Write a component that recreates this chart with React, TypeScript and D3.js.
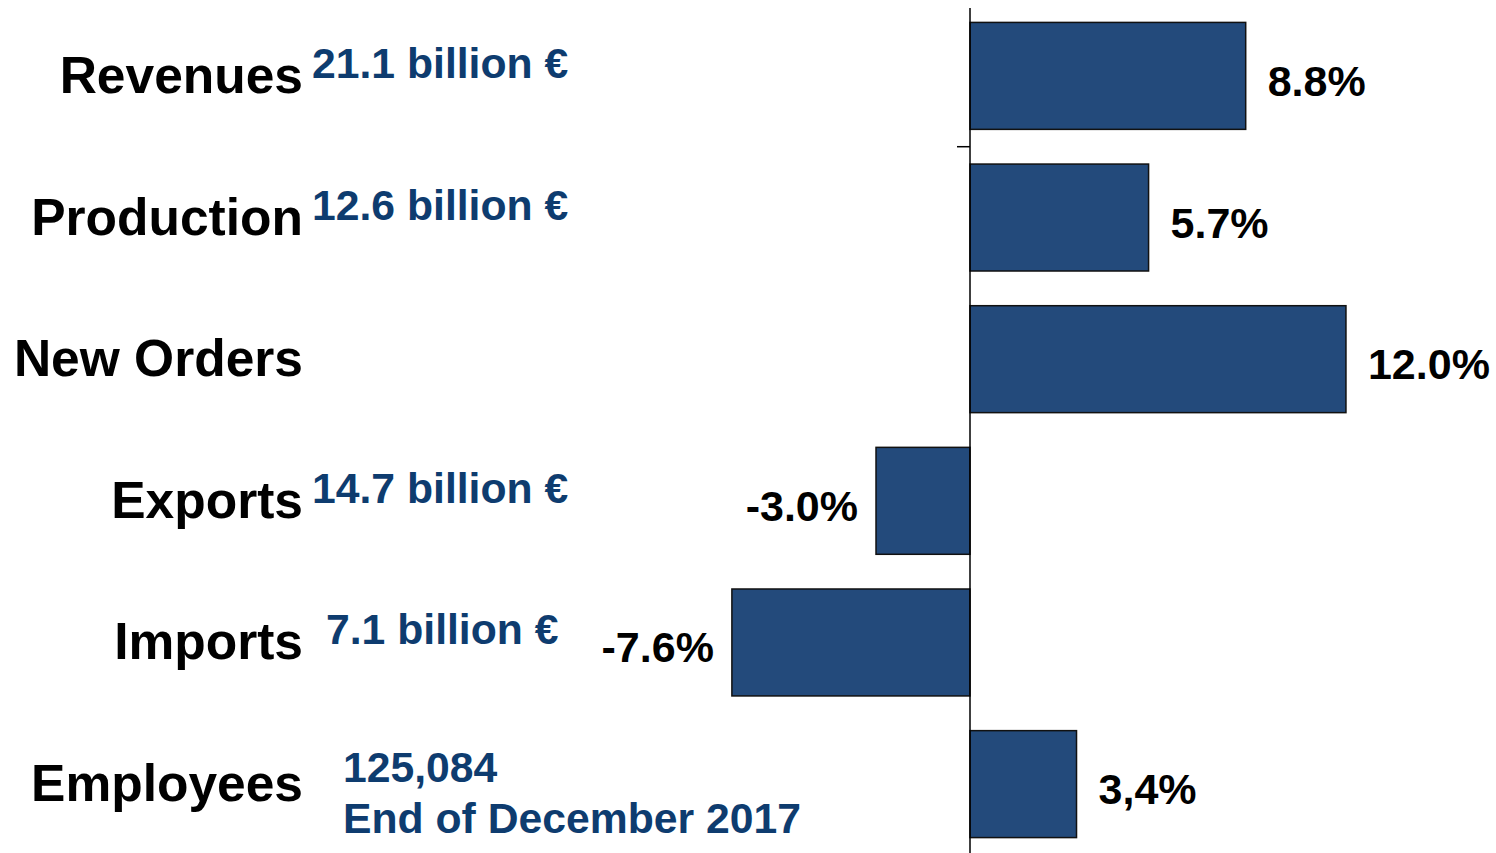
import * as d3 from "d3";
import React from "react";

// chart data
const categories = ["Revenues", "Production", "New Orders", "Exports", "Imports", "Employees"];
const changes = [8.8, 5.7, 12.0, -3.0, -7.6, 3.4];
const changeLabels = ["8.8%", "5.7%", "12.0%", "-3.0%", "-7.6%", "3,4%"];
const totals: string[][] = [
    ["21.1 billion €"],
    ["12.6 billion €"],
    [],
    ["14.7 billion €"],
    ["7.1 billion €"],
    ["125,084", "End of December 2017"],
];

const W = 1496;
const H = 853;
const BAR_FILL = "#234a7b";
const NOTE_BLUE = "#0e3c6f";
const FONT = "'Liberation Sans', Arial, sans-serif";

const App: React.FC = () => {
    const x = d3.scaleLinear().domain([-10, 15]).range([970 - 10 * 31.33, 970 + 15 * 31.33]);
    const y = d3.scaleBand<string>()
        .domain(categories)
        .range([4, 856])
        .paddingInner(0.245)
        .paddingOuter(0.13);

    const bw = y.bandwidth();
    const step = y.step();
    const tickY = (y(categories[1]) as number) - (step - bw) / 2;

    // where the blue notes start (imports and employees sit a bit further right)
    const noteX = (i: number) => (i === 4 ? 326 : i === 5 ? 343 : 312);

    return (
        <svg
            width={W}
            height={H}
            style={{ position: "absolute", left: 0, top: 0, background: "#fff" }}
            fontFamily={FONT}
            fontWeight="bold"
        >
            {categories.map((c, i) => {
                const v = changes[i];
                const y0 = y(c) as number;
                const cy = y0 + bw / 2;
                const x0 = x(Math.min(0, v));
                const x1 = x(Math.max(0, v));
                return (
                    <g key={c}>
                        <rect
                            x={x0}
                            y={y0}
                            width={x1 - x0}
                            height={bw}
                            fill={BAR_FILL}
                            stroke="#111"
                            strokeWidth={1.5}
                        />
                        <text
                            x={v >= 0 ? x1 + 22 : x0 - 18}
                            y={cy + 20}
                            textAnchor={v >= 0 ? "start" : "end"}
                            fontSize={43}
                            fill="#000"
                        >
                            {changeLabels[i]}
                        </text>
                        <text x={303} y={cy + 17} textAnchor="end" fontSize={51.5} fill="#000">
                            {c}
                        </text>
                        {totals[i].map((t, j) => (
                            <text
                                key={j}
                                x={noteX(i)}
                                y={cy + (totals[i].length > 1 ? -2 + j * 51 : 2)}
                                fontSize={42.7}
                                fill={NOTE_BLUE}
                            >
                                {t}
                            </text>
                        ))}
                    </g>
                );
            })}
            <line x1={x(0)} x2={x(0)} y1={8} y2={H} stroke="#000" strokeWidth={1.5} />
            <line x1={x(0) - 13} x2={x(0)} y1={tickY} y2={tickY} stroke="#000" strokeWidth={1.5} />
        </svg>
    );
};

export default App;
